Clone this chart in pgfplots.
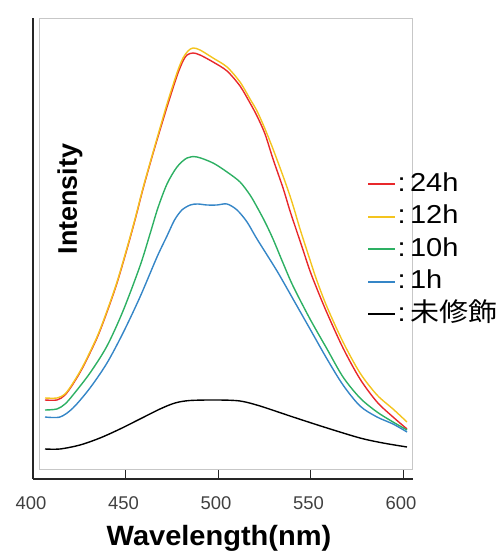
\documentclass[border=0pt]{standalone}
\usepackage{graphicx}
\usepackage{pgfplots}
\pgfplotsset{compat=1.18}
\usepackage{fontspec}
\setmainfont{Liberation Sans}
\newfontfamily\cjk{Noto Sans CJK JP}
\definecolor{cred}{RGB}{232,40,43}
\definecolor{cyel}{RGB}{244,196,30}
\definecolor{cgrn}{RGB}{45,176,99}
\definecolor{cblu}{RGB}{53,134,199}
\newcommand{\legtxt}[1]{\scalebox{1.12}[1]{\hspace*{1bp}:\hspace*{4bp}#1}}
\begin{document}
\begin{tikzpicture}[x=1bp,y=1bp]
\useasboundingbox (-33,-73) rectangle (468,479);
\begin{axis}[
  at={(0,0)}, anchor=south west,
  scale only axis, width=380bp, height=461bp,
  xmin=400, xmax=605.4, ymin=0, ymax=461,
  axis x line*=bottom, axis y line*=left,
  axis line style={black!85, line width=1.1pt},
  xtick={400,450,500,550,600}, ytick=\empty,
  tick align=inside, major tick length=9bp,
  tick style={black!85, line width=1pt},
  /pgf/number format/assume math mode=true,
  xticklabel style={font=\fontsize{18.5}{20}\selectfont, text=black!75, anchor=center, yshift=-24bp, xshift=-2bp},
  legend style={at={(axis description cs:0.8711,0.670)}, anchor=north west, draw=none, fill=none,
     font=\fontsize{26}{28}\selectfont, row sep=8.5bp, column sep=0pt,
     nodes={inner sep=0pt, text height=19bp, text depth=5bp}},
  legend cell align=left,
  legend image code/.code={\draw[#1, line width=2.2bp] (0bp,0bp) -- (27bp,0bp);},
  every axis plot/.append style={line width=1.4pt, smooth, tension=0.5},
]
\draw[black!22, line width=0.8pt] (axis cs:403.24,10) rectangle (axis cs:604.86,461);
\addplot[cred] coordinates {
(406.49,79) (412.97,79) (417.30,84) (421.62,95) (427.03,112) (434.59,141) (440.00,167) (445.41,196)
(450.81,230) (455.14,259) (459.46,290) (464.32,322) (468.65,349) (472.43,372) (475.68,391) (478.38,406)
(481.08,418) (483.24,424) (486.49,426) (490.27,424) (497.30,417) (504.86,408) (511.89,393) (517.30,376)
(521.08,363) (525.41,345) (529.73,320) (535.14,291) (538.92,268) (542.70,247) (545.95,229) (549.73,208)
(553.51,190) (558.92,166) (567.57,131) (576.76,100) (585.95,77) (594.59,62) (602.16,50)};
\addlegendentry{\legtxt{24h}}
\addplot[cyel] coordinates {
(406.49,81) (412.97,81) (417.30,85) (421.62,96) (427.03,113) (434.59,142) (440.00,168) (445.41,197)
(450.81,231) (455.14,260) (459.46,291) (464.32,323) (468.65,351) (472.43,375) (475.68,394) (478.38,409)
(481.08,421) (483.78,428) (486.49,431) (490.27,429) (497.30,421) (504.86,412) (511.89,397) (517.30,380)
(521.08,368) (525.41,350) (529.73,330) (535.14,303) (538.92,283) (541.62,267) (544.32,250) (549.73,219)
(553.51,198) (558.92,172) (567.57,137) (576.76,106) (585.95,84) (594.59,70) (602.16,57)};
\addlegendentry{\legtxt{12h}}
\addplot[cgrn] coordinates {
(406.49,69) (412.97,70) (417.30,75) (421.62,84) (430.81,106) (440.00,133) (448.65,168) (457.84,213)
(463.24,245) (467.50,271) (472.43,295) (477.84,312) (483.24,321) (488.65,322) (497.30,316) (504.86,307)
(511.89,297) (517.30,284) (521.08,272) (525.41,257) (529.73,240) (535.14,216) (540.54,193) (549.73,160)
(558.92,130) (567.57,102) (576.76,81) (585.95,67) (594.59,57) (602.16,49)};
\addlegendentry{\legtxt{10h}}
\addplot[cblu] coordinates {
(406.49,62) (414.59,62) (421.62,71) (430.81,91) (440.00,116) (448.65,146) (457.84,182) (467.03,222)
(472.43,243) (476.50,259) (480.50,269) (485.00,274) (489.00,275) (494.00,274) (499.46,274) (504.86,275)
(510.27,269) (515.68,257) (521.08,240) (531.89,208) (540.54,180) (549.73,150) (558.92,120) (567.57,94)
(576.76,73) (585.95,62) (594.59,55) (602.16,47)};
\addlegendentry{\legtxt{1h}}
\addplot[black] coordinates {
(406.49,30) (414.59,30) (425.41,34) (436.22,41) (447.03,50) (457.84,60) (468.65,70) (476.76,76)
(484.86,78.5) (499.46,79) (511.89,78) (522.70,73) (540.54,62) (558.92,51) (576.76,41) (589.19,36) (602.16,32)};
\addlegendentry{\legtxt{{\cjk 未修飾}}}
\end{axis}
\node[font=\bfseries\fontsize{28}{30}\selectfont, anchor=center, xscale=1.04] at (186,-59) {Wavelength(nm)};
\node[font=\bfseries\fontsize{27}{29}\selectfont, rotate=90, anchor=center] at (37,280) {Intensity};
\end{tikzpicture}
\end{document}
